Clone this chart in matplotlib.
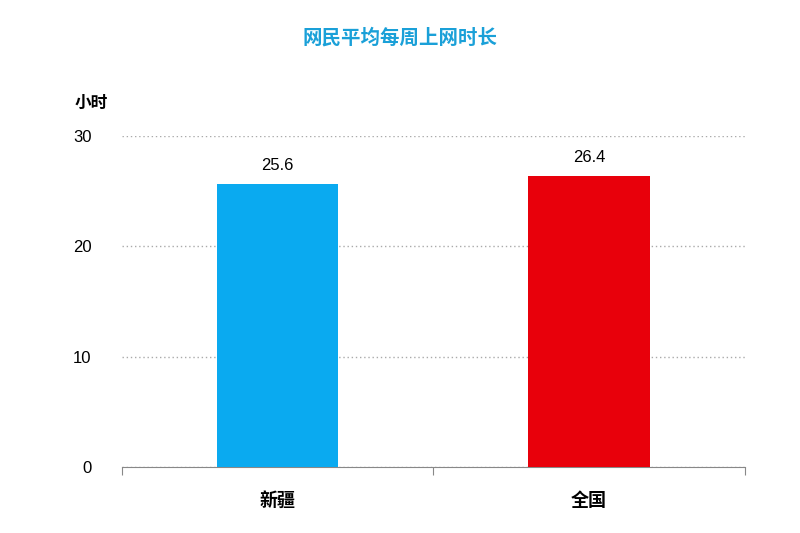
import matplotlib.pyplot as plt

plt.rcParams['font.family'] = ['Noto Sans CJK SC', 'DejaVu Sans']

regions = ['新疆', '全国']
hours = [25.6, 26.4]
colors = ['#0aaaf0', '#e8000b']

fig = plt.figure(figsize=(8, 5.33), dpi=100)
ax = fig.add_axes([0.1525, 0.124, 0.7785, 0.621])

x = [0.5, 1.5]
ax.bar(x, hours, width=0.39, color=colors, zorder=3)
for xi, h in zip(x, hours):
    ax.text(xi, h + 1.0, f'{h}', ha='center', va='bottom', fontsize=12,
            family=['Liberation Sans', 'DejaVu Sans'])

ax.set_xlim(0, 2)
ax.set_ylim(0, 30)
ax.set_yticks([0, 10, 20, 30])
ax.set_yticklabels(['0', '10', '20', '30'], fontsize=12,
                   family=['Liberation Sans', 'DejaVu Sans'])
ax.yaxis.grid(True, linestyle=(0, (1, 2)), color='#aaaaaa', linewidth=1)
ax.tick_params(axis='y', length=0, pad=22)
ax.set_xticks([0, 1, 2])
ax.set_xticklabels([])
ax.tick_params(axis='x', direction='out', length=6, color='#888888')
for s in ['left', 'right', 'top']:
    ax.spines[s].set_visible(False)
ax.spines['bottom'].set_color('#888888')
for xi, r in zip(x, regions):
    ax.text(xi, -3.0, r, ha='center', va='center', fontsize=13, fontweight='bold')

fig.text(0.09375, 0.807, '小时', ha='left', va='center', fontsize=12, fontweight='bold')
fig.text(0.5, 0.93, '网民平均每周上网时长', ha='center', va='center', fontsize=14,
         color='#1aa0d8', fontweight='bold')

fig.savefig('out.png', dpi=100)
